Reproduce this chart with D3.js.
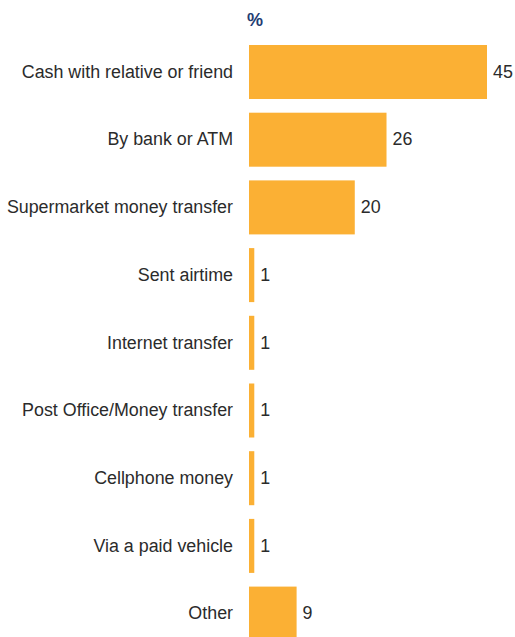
<!DOCTYPE html>
<html>
<head>
<meta charset="utf-8">
<script src="https://cdn.jsdelivr.net/npm/d3@7"></script>
<style>
  html, body { margin: 0; padding: 0; background: #fff; }
  svg text { font-family: "Liberation Sans", Arial, sans-serif; }
</style>
</head>
<body>
<svg id="chart" width="515" height="637"></svg>
<script>
// Ways of sending money (%)
const categories = [
  "Cash with relative or friend",
  "By bank or ATM",
  "Supermarket money transfer",
  "Sent airtime",
  "Internet transfer",
  "Post Office/Money transfer",
  "Cellphone money",
  "Via a paid vehicle",
  "Other"
];
const values = [45, 26, 20, 1, 1, 1, 1, 1, 9];
const unitLabel = "%";

const svg = d3.select("#chart");
const top0 = 45, step = 67.7, barH = 54;
const squeeze = 0.94; // condensed look for the labels

const x = d3.scaleLinear().domain([0, 45]).range([249, 487]);
const y = d3.scaleBand()
  .domain(categories)
  .range([top0, top0 + step * categories.length - (step - barH)])
  .paddingInner((step - barH) / step)
  .paddingOuter(0);

const data = categories.map((c, i) => ({ cat: c, val: values[i] }));

svg.append("text")
  .attr("transform", "translate(247,26) scale(0.95,1)")
  .attr("fill", "#1f3d73")
  .attr("font-weight", "bold")
  .attr("font-size", 19)
  .text(unitLabel);

svg.selectAll("rect.bar")
  .data(data)
  .join("rect")
  .attr("class", "bar")
  .attr("x", x(0))
  .attr("y", d => y(d.cat))
  .attr("width", d => x(d.val) - x(0))
  .attr("height", y.bandwidth())
  .attr("fill", "#fbb034");

svg.selectAll("text.cat")
  .data(data)
  .join("text")
  .attr("class", "cat")
  .attr("transform", d => `translate(233,${y(d.cat) + y.bandwidth() / 2}) scale(${squeeze},1)`)
  .attr("dy", "0.3em")
  .attr("text-anchor", "end")
  .attr("font-size", 19)
  .attr("fill", "#2b2b2b")
  .text(d => d.cat);

svg.selectAll("text.val")
  .data(data)
  .join("text")
  .attr("class", "val")
  .attr("transform", d => `translate(${x(d.val) + 6},${y(d.cat) + y.bandwidth() / 2}) scale(${squeeze},1)`)
  .attr("dy", "0.3em")
  .attr("font-size", 19)
  .attr("fill", "#2b2b2b")
  .text(d => d.val);
</script>
</body>
</html>
